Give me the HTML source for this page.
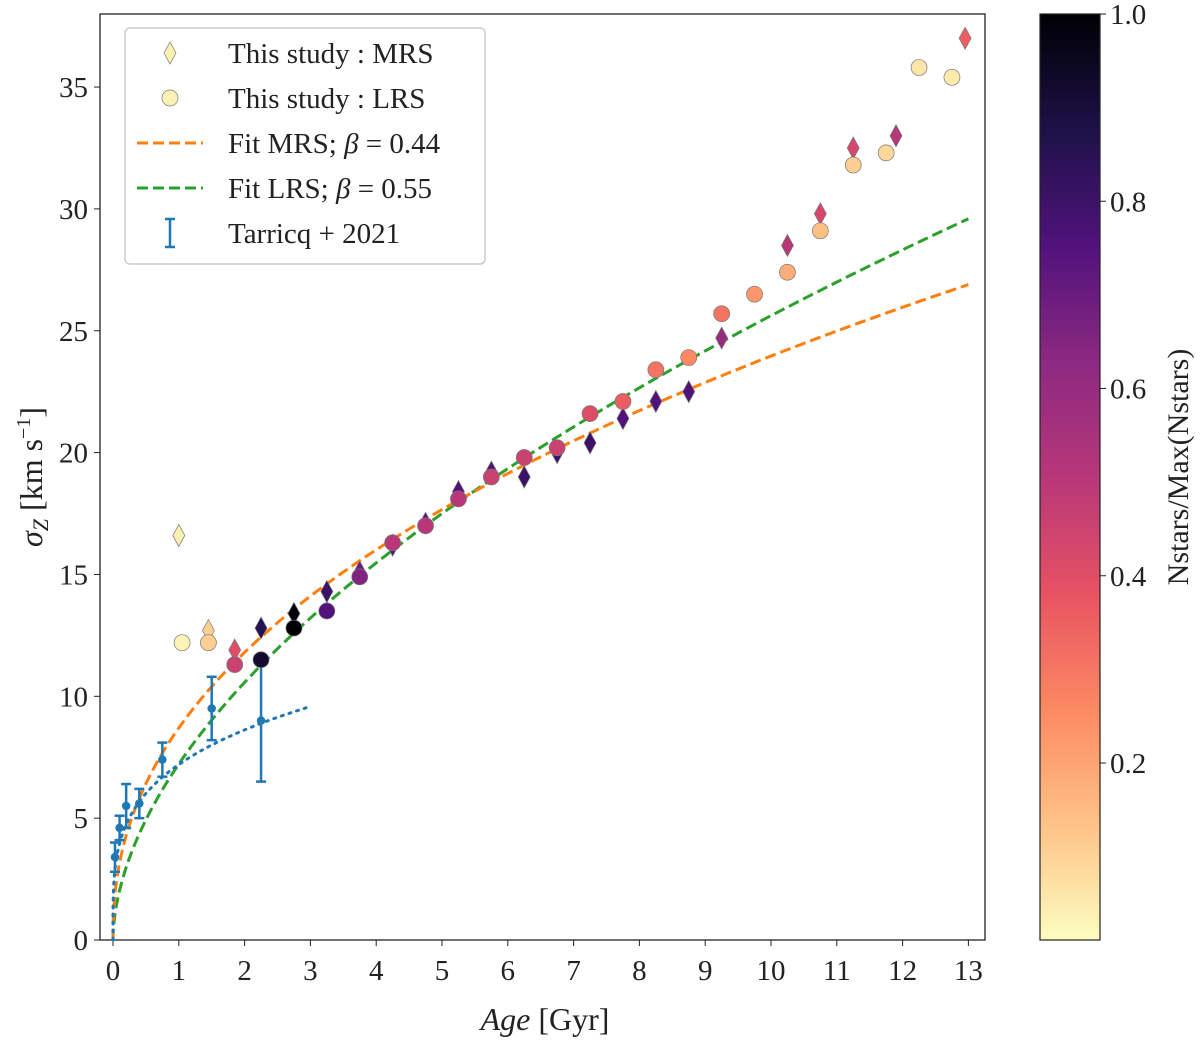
<!DOCTYPE html>
<html><head><meta charset="utf-8"><style>
body{margin:0;background:#fff}
svg text{font-family:"Liberation Serif","DejaVu Serif",serif;fill:#222}
</style></head><body>
<svg id="c" width="1200" height="1042" xmlns="http://www.w3.org/2000/svg">
<defs>
<linearGradient id="cb" x1="0" y1="1" x2="0" y2="0">
<stop offset="0" stop-color="#fcfdbf"/><stop offset="0.125" stop-color="#fec287"/><stop offset="0.25" stop-color="#fc8961"/><stop offset="0.375" stop-color="#e75263"/><stop offset="0.5" stop-color="#b73779"/><stop offset="0.625" stop-color="#8c2981"/><stop offset="0.75" stop-color="#51127c"/><stop offset="0.875" stop-color="#1d1147"/><stop offset="1" stop-color="#000004"/>
</linearGradient>
</defs>
<g id="plot"></g>
</svg>
<script>
const mrsAge=[1.0,1.45,1.85,2.25,2.75,3.25,3.75,4.25,4.75,5.25,5.75,6.25,6.75,7.25,7.75,8.25,8.75,9.25,10.25,10.75,11.25,11.9,12.95];
const mrsSig=[16.6,12.7,11.9,12.8,13.4,14.3,15.1,16.2,17.1,18.4,19.2,19.0,20.0,20.4,21.4,22.1,22.5,24.7,28.5,29.8,32.5,33.0,37.0];
const mrsN=[0.03,0.1,0.4,0.85,1.0,0.8,0.7,0.75,0.75,0.75,0.75,0.8,0.8,0.8,0.75,0.75,0.75,0.6,0.5,0.42,0.42,0.5,0.35];
const lrsAge=[1.05,1.45,1.85,2.25,2.75,3.25,3.75,4.25,4.75,5.25,5.75,6.25,6.75,7.25,7.75,8.25,8.75,9.25,9.75,10.25,10.75,11.25,11.75,12.25,12.75];
const lrsSig=[12.2,12.2,11.3,11.5,12.8,13.5,14.9,16.3,17.0,18.1,19.0,19.8,20.2,21.6,22.1,23.4,23.9,25.7,26.5,27.4,29.1,31.8,32.3,35.8,35.4];
const lrsN=[0.02,0.1,0.45,0.92,1.0,0.75,0.65,0.5,0.5,0.5,0.45,0.45,0.45,0.4,0.35,0.3,0.25,0.3,0.22,0.17,0.13,0.1,0.08,0.05,0.04];
const tarAge=[0.03,0.1,0.2,0.4,0.75,1.5,2.25];
const tarSig=[3.4,4.6,5.5,5.6,7.4,9.5,9.0];
const tarErr=[0.6,0.5,0.9,0.6,0.7,1.3,2.5];
const fitMRS={a:8.7,beta:0.44};
const fitLRS={a:7.22,beta:0.55};
const fitTar={a:7.2,beta:0.26};
const xTicks=[0,1,2,3,4,5,6,7,8,9,10,11,12,13];
const yTicks=[0,5,10,15,20,25,30,35];
const cbTicks=[0.2,0.4,0.6,0.8,1.0];

const NS="http://www.w3.org/2000/svg";
const g=document.getElementById('plot');
const L=100,R=985,T=14,B=940;
const X=v=>113+v*65.8, Y=v=>940-v*24.37;
const CB=v=>14+(1-v)*936.25;
function el(t,a,p){const e=document.createElementNS(NS,t);for(const k in a)e.setAttribute(k,a[k]);(p||g).appendChild(e);return e;}
const stops=[[0,[252,253,191]],[0.125,[254,194,135]],[0.25,[252,137,97]],[0.375,[231,82,99]],[0.5,[183,55,121]],[0.625,[140,41,129]],[0.75,[81,18,124]],[0.875,[29,17,71]],[1,[0,0,4]]];
function cmap(v){v=Math.max(0,Math.min(1,v));for(let i=1;i<stops.length;i++){if(v<=stops[i][0]){const[a,ca]=stops[i-1],[b,cb]=stops[i];const f=(v-a)/(b-a);return 'rgb('+ca.map((c,j)=>Math.round(c+(cb[j]-c)*f)).join(',')+')';}}return 'rgb(0,0,4)';}

// frame
let fr=el('rect',{x:L,y:T,width:R-L,height:B-T,fill:'none',stroke:'#222','stroke-width':1.3});

xTicks.forEach(t=>{el('line',{x1:X(t),x2:X(t),y1:B,y2:B+6,stroke:'#222'});
 const tx=el('text',{x:X(t),y:B+40,'text-anchor':'middle','font-size':29});tx.textContent=t;
 });
yTicks.forEach(t=>{el('line',{x1:L-6,x2:L,y1:Y(t),y2:Y(t),stroke:'#222'});
 const tx=el('text',{x:L-12,y:Y(t)+10,'text-anchor':'end','font-size':29});tx.textContent=t;
 });
let xl=el('text',{x:545,y:1030,'text-anchor':'middle','font-size':32});xl.innerHTML='<tspan font-style="italic">Age</tspan> [Gyr]';

let yl=el('text',{x:0,y:0,'text-anchor':'middle','font-size':32,transform:'translate(42,477) rotate(-90)'});yl.innerHTML='<tspan font-style="italic">σ</tspan><tspan font-style="italic" font-size="22" dy="6">Z</tspan><tspan dy="-6"> [km s</tspan><tspan font-size="20" dy="-12">−1</tspan><tspan dy="12">]</tspan>';


function curve(f,x0,x1,attrs,name){let d='';for(let i=0;i<=300;i++){const t=x0+(x1-x0)*Math.pow(i/300,2);d+=(i?'L':'M')+X(t).toFixed(1)+','+Y(f.a*Math.pow(t,f.beta)).toFixed(1);}
 const p=el('path',Object.assign({d,fill:'none'},attrs));}
curve(fitLRS,0,13,{stroke:'#2ca02c','stroke-width':3,'stroke-dasharray':'11,5'},'fit-lrs-line');
curve(fitMRS,0,13,{stroke:'#ff7f0e','stroke-width':3,'stroke-dasharray':'11,5'},'fit-mrs-line');
curve(fitTar,0,3,{stroke:'#1f77b4','stroke-width':3,'stroke-dasharray':'2,6','stroke-linecap':'round'},'tarricq-fit-line');

tarAge.forEach((a,i)=>{const x=X(a),y1=Y(tarSig[i]-tarErr[i]),y2=Y(tarSig[i]+tarErr[i]);
 const gg=el('g',{stroke:'#1f77b4','stroke-width':2.5});
 
 el('line',{x1:x,x2:x,y1,y2},gg);el('line',{x1:x-5,x2:x+5,y1,y2:y1},gg);el('line',{x1:x-5,x2:x+5,y1:y2,y2},gg);
 el('circle',{cx:x,cy:Y(tarSig[i]),r:3,fill:'#1f77b4'},gg);});

function diamond(x,y,fill){return el('path',{d:`M${x},${y-11}L${x+6},${y}L${x},${y+11}L${x-6},${y}Z`,fill,stroke:'#777','stroke-width':0.7});}
mrsAge.forEach((a,i)=>{const p=diamond(X(a),Y(mrsSig[i]),cmap(mrsN[i]));});
lrsAge.forEach((a,i)=>{const c=el('circle',{cx:X(a),cy:Y(lrsSig[i]),r:8,fill:cmap(lrsN[i]),stroke:'#777','stroke-width':0.7});});

// legend
const lg=el('g',{});
el('rect',{x:125,y:28,width:360,height:236,rx:5,fill:'#fff','fill-opacity':0.85,stroke:'#ccc','stroke-width':1.5},lg);
const items=['This study :  MRS','This study :  LRS','Fit MRS; <tspan font-style="italic">β</tspan> = 0.44','Fit LRS; <tspan font-style="italic">β</tspan> = 0.55','Tarricq + 2021'];
items.forEach((s,i)=>{const y=53+i*45;const t=el('text',{x:228,y:y+10,'font-size':29},lg);t.innerHTML=s;
 });
const d=diamond(170,53,'#fcf0b0');lg.appendChild(d);
lg.appendChild(el('circle',{cx:170,cy:98,r:8,fill:'#fcf2b8',stroke:'#777','stroke-width':0.7}));
el('line',{x1:137,x2:203,y1:143,y2:143,stroke:'#ff7f0e','stroke-width':3,'stroke-dasharray':'11,5'},lg);
el('line',{x1:137,x2:203,y1:188,y2:188,stroke:'#2ca02c','stroke-width':3,'stroke-dasharray':'11,5'},lg);
const tg=el('g',{stroke:'#1f77b4','stroke-width':2.5},lg);
el('line',{x1:170,x2:170,y1:219,y2:247},tg);el('line',{x1:165,x2:175,y1:219,y2:219},tg);el('line',{x1:165,x2:175,y1:247,y2:247},tg);

// colorbar
const cb=el('rect',{x:1040,y:14,width:60,height:926,fill:'url(#cb)',stroke:'#222','stroke-width':1.2});

cbTicks.forEach(t=>{el('line',{x1:1100,x2:1106,y1:CB(t),y2:CB(t),stroke:'#222'});
 const tx=el('text',{x:1110,y:CB(t)+10,'font-size':29});tx.textContent=t.toFixed(1);
 });
const ct=el('text',{x:0,y:0,'text-anchor':'middle','font-size':30,transform:'translate(1188,467) rotate(-90)'});ct.textContent='Nstars/Max(Nstars)';

</script>
</body></html>
